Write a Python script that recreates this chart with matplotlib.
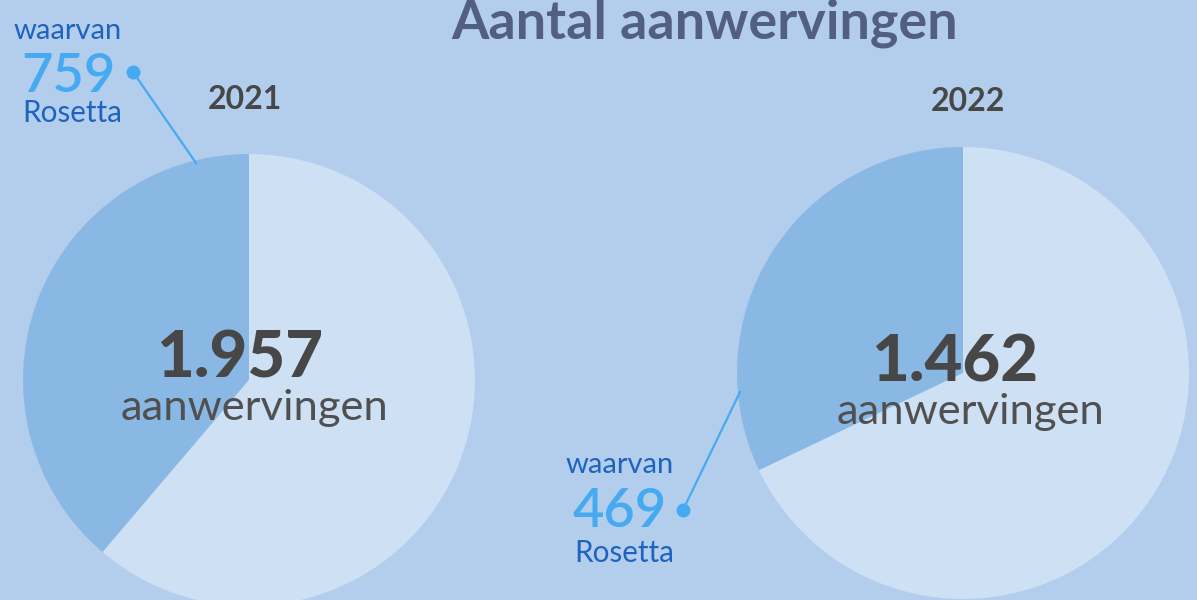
import matplotlib
matplotlib.use("Agg")
import matplotlib.pyplot as plt

# data
jaren = ["2021", "2022"]
totaal = [1957, 1462]
rosetta = [759, 469]
totaal_labels = ["1.957", "1.462"]

bg = "#b3cdec"
donker = "#8ab8e4"
licht = "#cde0f4"
tekst = "#474747"
blauw_lbl = "#1e64bf"
blauw_nr = "#45aaf2"

W, H = 1197, 600
fig = plt.figure(figsize=(W / 100, H / 100), dpi=100, facecolor=bg)
ax = fig.add_axes([0, 0, 1, 1])

fam = ["Lato", "DejaVu Sans"]

# pixel positions (y measured from top)
centers = [(249, 380), (963, 373)]
straal = 226

for i in range(2):
    cx, cy = centers[i]
    ax.pie([rosetta[i], totaal[i] - rosetta[i]], colors=[donker, licht],
           startangle=90, counterclock=True, radius=straal,
           center=(cx, H - cy), frame=True,
           wedgeprops=dict(linewidth=0))

ax.set_xlim(0, W)
ax.set_ylim(0, H)
ax.set_aspect("equal")
ax.axis("off")

# titel
ax.text(705, H - 38, "Aantal aanwervingen", ha="center", va="baseline",
        fontsize=38.8, fontweight="bold", color="#525f80", family=fam)

# jaartallen
ax.text(245, H - 109, jaren[0], ha="center", va="baseline", fontsize=23,
        fontweight="bold", color=tekst, family=fam)
ax.text(968, H - 111, jaren[1], ha="center", va="baseline", fontsize=23,
        fontweight="bold", color=tekst, family=fam)

# totalen in het midden
midden = [(240, 377, 420), (955, 381, 424)]
for i, (mx, yb, yb2) in enumerate(midden):
    ax.text(mx, H - yb, totaal_labels[i], ha="center", va="baseline",
            fontsize=47, fontweight="black", color=tekst, family=fam)
    ax.text(mx + 15, H - yb2, "aanwervingen", ha="center", va="baseline",
            fontsize=31.3, fontweight="normal", color="#505050", family=fam)

# annotaties Rosetta
annot = [(68, 39, 92, 122, (133, 72), (196, 163)),
         (620, 473, 527, 562, (683, 510), (740, 392))]
for i, (ax_x, y1, y2, y3, dot, eind) in enumerate(annot):
    ax.text(ax_x, H - y1, "waarvan", ha="center", va="baseline", fontsize=21,
            color=blauw_lbl, family=fam)
    ax.text(ax_x, H - y2, str(rosetta[i]), ha="center", va="baseline",
            fontsize=39, fontweight="semibold", color=blauw_nr, family=fam)
    ax.text(ax_x + 4, H - y3, "Rosetta", ha="center", va="baseline",
            fontsize=21.3, color=blauw_lbl, family=fam)
    ax.plot([dot[0], eind[0]], [H - dot[1], H - eind[1]], color=blauw_nr, lw=1.6)
    ax.plot(dot[0], H - dot[1], "o", color=blauw_nr, ms=9)

fig.savefig("out.png", dpi=100, facecolor=bg)
